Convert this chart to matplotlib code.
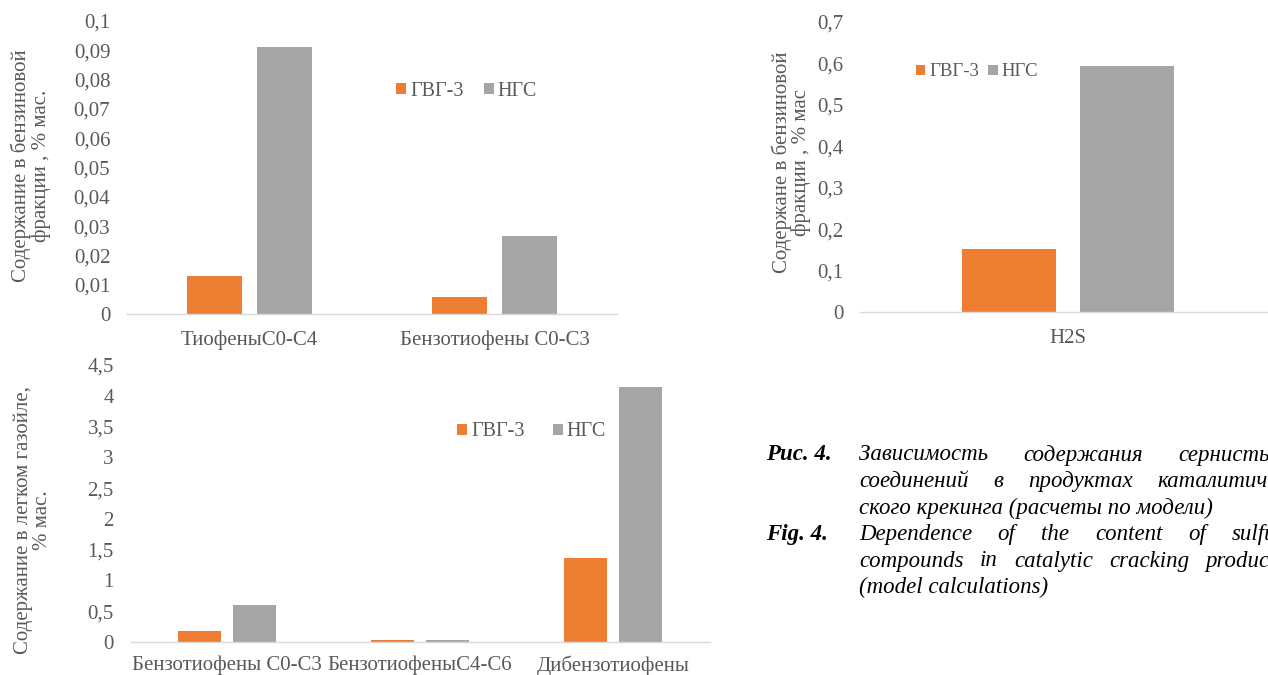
import matplotlib
matplotlib.use("Agg")
import matplotlib.pyplot as plt
import numpy as np
from matplotlib.patches import Patch

# ---- data ----
series_names = ["ГВГ-3", "НГС"]

gas_categories = ["ТиофеныC0-C4", "Бензотиофены C0-C3"]
gas_gvg = [0.013, 0.0058]
gas_ngs = [0.091, 0.0266]
gas_ticks = [0, 0.01, 0.02, 0.03, 0.04, 0.05, 0.06, 0.07, 0.08, 0.09, 0.1]
gas_ticklabels = ["0", "0,01", "0,02", "0,03", "0,04", "0,05", "0,06", "0,07", "0,08", "0,09", "0,1"]

h2s_categories = ["H2S"]
h2s_gvg = [0.153]
h2s_ngs = [0.594]
h2s_ticks = [0, 0.1, 0.2, 0.3, 0.4, 0.5, 0.6, 0.7]
h2s_ticklabels = ["0", "0,1", "0,2", "0,3", "0,4", "0,5", "0,6", "0,7"]

lgo_categories = ["Бензотиофены C0-C3", "БензотиофеныC4-C6", "Дибензотиофены"]
lgo_gvg = [0.18, 0.025, 1.37]
lgo_ngs = [0.60, 0.025, 4.14]
lgo_ticks = [0, 0.5, 1, 1.5, 2, 2.5, 3, 3.5, 4, 4.5]
lgo_ticklabels = ["0", "0,5", "1", "1,5", "2", "2,5", "3", "3,5", "4", "4,5"]

caption_ru = [
    ["Зависимость", "содержания", "сернистых"],
    ["соединений", "в", "продуктах", "каталитиче-"],
    ["ского крекинга (расчеты по модели)"],
]
caption_en = [
    ["Dependence", "of", "the", "content", "of", "sulfur"],
    ["compounds", "in", "catalytic", "cracking", "products"],
    ["(model calculations)"],
]

# ---- style ----
W, H = 1268, 675
ORANGE = "#ED7D31"
GREY = "#A5A5A5"
TXT = "#595959"
AXIS_LINE = "#D9D9D9"
SERIF = "Liberation Serif"

fig = plt.figure(figsize=(W / 100, H / 100), dpi=100)
fig.patch.set_facecolor("white")


def fx(px):
    return px / W


def fy(py):
    return 1 - py / H


def make_axes(left, right, top, bottom):
    return fig.add_axes([fx(left), fy(bottom), (right - left) / W, (bottom - top) / H])


def bar_panel(ax, cats, a, b, ticks, ticklabels, ymax, xpad):
    x = np.arange(len(cats))
    width = 0.225
    off = 0.142
    ax.bar(x - off, a, width, color=ORANGE, label=series_names[0])
    ax.bar(x + off, b, width, color=GREY, label=series_names[1])
    ax.set_xlim(-0.5, len(cats) - 0.5)
    ax.set_ylim(0, ymax)
    ax.set_yticks(ticks)
    ax.set_yticklabels(ticklabels)
    ax.set_xticks(x)
    ax.set_xticklabels(cats)
    for s in ("top", "right", "left"):
        ax.spines[s].set_visible(False)
    ax.spines["bottom"].set_color(AXIS_LINE)
    ax.spines["bottom"].set_linewidth(1.0)
    ax.tick_params(axis="y", length=0, pad=12, labelsize=15, labelcolor=TXT)
    ax.tick_params(axis="x", length=0, pad=xpad, labelsize=15, labelcolor=TXT)
    for lab in ax.get_xticklabels() + ax.get_yticklabels():
        lab.set_fontfamily(SERIF)
    ax.set_facecolor("none")


def add_legend(ax, x_left, y_center, colspace, size):
    handles = [Patch(facecolor=ORANGE, edgecolor="none"), Patch(facecolor=GREY, edgecolor="none")]
    leg = ax.legend(handles, series_names, ncol=2, loc="center left",
                    bbox_to_anchor=(fx(x_left), fy(y_center)), bbox_transform=fig.transFigure,
                    frameon=False, handlelength=0.5, handleheight=0.5, handletextpad=0.2,
                    columnspacing=colspace, borderpad=0, borderaxespad=0,
                    prop={"family": SERIF, "size": size})
    for t in leg.get_texts():
        t.set_color(TXT)


# gasoline fraction
ax1 = make_axes(127, 617, 21, 314)
bar_panel(ax1, gas_categories, gas_gvg, gas_ngs, gas_ticks, gas_ticklabels, 0.1, 12)
add_legend(ax1, 396, 91, 1.0, 14.5)
fig.text(fx(31), fy(166), "Содержание в бензиновой\nфракции , % мас.", rotation=90,
         ha="center", va="center", multialignment="center", linespacing=1.0,
         family=SERIF, size=15, color=TXT)

# H2S
ax2 = make_axes(860, 1276, 22, 312)
bar_panel(ax2, h2s_categories, h2s_gvg, h2s_ngs, h2s_ticks, h2s_ticklabels, 0.7, 12)
add_legend(ax2, 916, 72, 0.5, 13.5)
fig.text(fx(791), fy(162), "Содержане в бензиновой\nфракции , % мас", rotation=90,
         ha="center", va="center", multialignment="center", linespacing=1.0,
         family=SERIF, size=15, color=TXT)

# light gas oil
ax3 = make_axes(130.5, 709.5, 365, 642)
bar_panel(ax3, lgo_categories, lgo_gvg, lgo_ngs, lgo_ticks, lgo_ticklabels, 4.5, 10)
add_legend(ax3, 457, 432, 1.4, 14.5)
fig.text(fx(33), fy(520), "Содержание в легком газойле,\n% мас.", rotation=90,
         ha="center", va="center", multialignment="center", linespacing=1.0,
         family=SERIF, size=15, color=TXT)

# ---- justified figure caption ----
CAP_SIZE = 16.5
COL_LEFT, COL_RIGHT, HEAD_X = 859, 1285, 766
LINE_Y0, LINE_STEP = 455, 26.5
renderer = fig.canvas.get_renderer()


def word_width(word):
    t = fig.text(0, 0, word, family=SERIF, style="italic", size=CAP_SIZE)
    w = t.get_window_extent(renderer).width
    t.remove()
    return w


def draw_paragraph(lines, head, y0):
    fig.text(fx(HEAD_X), fy(y0), head, ha="left", va="center", family=SERIF,
             style="italic", weight="bold", size=CAP_SIZE, color="black")
    for i, words in enumerate(lines):
        y = y0 + i * LINE_STEP
        last = i == len(lines) - 1
        widths = [word_width(w) for w in words]
        if last or len(words) == 1:
            gap = word_width("a b") - word_width("ab")
        else:
            gap = (COL_RIGHT - COL_LEFT - sum(widths)) / (len(words) - 1)
        x = COL_LEFT
        for w, wd in zip(words, widths):
            fig.text(fx(x), fy(y), w, ha="left", va="center", family=SERIF,
                     style="italic", size=CAP_SIZE, color="black")
            x += wd + gap


draw_paragraph(caption_ru, "Рис. 4.", LINE_Y0)
draw_paragraph(caption_en, "Fig. 4.", LINE_Y0 + 3 * LINE_STEP)

fig.savefig("out.png", dpi=100, facecolor="white")
